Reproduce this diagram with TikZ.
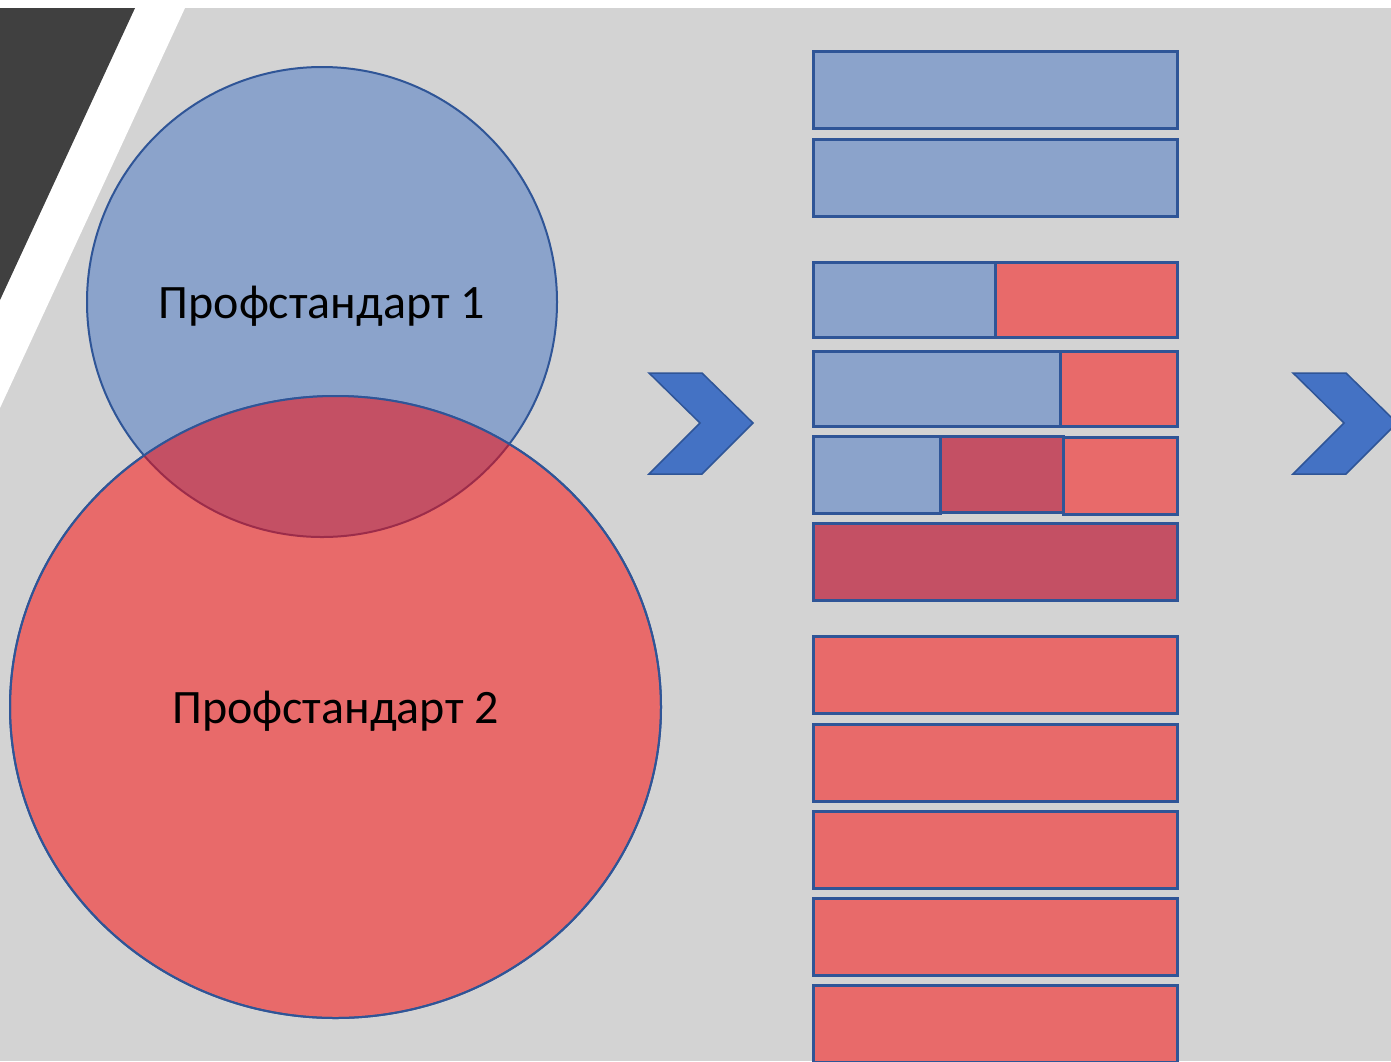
\documentclass[tikz,border=0pt]{standalone}
\usepackage{fontspec}
\setmainfont{Carlito}
\definecolor{bggray}{HTML}{D3D3D3}
\definecolor{darkband}{HTML}{404040}
\definecolor{psblue}{HTML}{8BA3CB}
\definecolor{psred}{HTML}{E86A6A}
\definecolor{psboth}{HTML}{C45064}
\definecolor{edgeblue}{HTML}{2F5597}
\definecolor{edgered}{HTML}{9C2C4A}
\definecolor{arrowblue}{HTML}{4472C4}
\tikzset{
    bar/.style={draw=edgeblue,line width=3pt},
    chev/.style={fill=arrowblue,draw=edgeblue,line width=1.5pt,line join=miter},
    label/.style={font=\fontsize{48}{56}\selectfont,text=black}
}
\begin{document}
\begin{tikzpicture}[x=1pt,y=-1pt]
    \useasboundingbox (0,0) rectangle (1391,1061);
    \clip (0,0) rectangle (1391,1061);
    % background and corner band
    \fill[white] (0,0) rectangle (1391,1061);
    \fill[bggray] (0,8) rectangle (1391,1061);
    \fill[white] (135,8) -- (185,8) -- (0,408) -- (0,300) -- cycle;
    \fill[darkband] (0,8) -- (135,8) -- (0,300) -- cycle;
    % two sets
    \draw[fill=psblue,draw=edgeblue,line width=2pt] (322,302) circle (235);
    \draw[fill=psred,draw=edgeblue,line width=2pt] (335.5,707) ellipse (325.5 and 311);
    \begin{scope}
        \clip (322,302) circle (235);
        \fill[psboth] (335.5,707) ellipse (325.5 and 311);
    \end{scope}
    \begin{scope}
        \clip (335.5,707) ellipse (325.5 and 311);
        \draw[edgered,line width=2pt] (322,302) circle (235);
    \end{scope}
    \draw[edgeblue,line width=2pt] (335.5,707) ellipse (325.5 and 311);
    \node[label] (ps1) at (322,306) {Профстандарт 1};
    \node[label] (ps2) at (335.5,711) {Профстандарт 2};
    % chevrons
    \foreach \cx in {649,1293}
        \draw[chev] (\cx,373) -- (\cx+53,373) -- (\cx+104,423) -- (\cx+53,474)
            -- (\cx,474) -- (\cx+51,423) -- cycle;
    % stack of bars
    \foreach \ty in {51,139}
        \draw[bar,fill=psblue] (813,\ty) rectangle (1177,\ty+77);
    \draw[bar,fill=psblue] (813,262) rectangle (995,337);
    \draw[bar,fill=psred] (995,262) rectangle (1177,337);
    \draw[bar,fill=psblue] (813,351) rectangle (1060,426);
    \draw[bar,fill=psred] (1060,351) rectangle (1177,426);
    \draw[bar,fill=psblue] (813,436) rectangle (940,513);
    \draw[bar,fill=psboth] (940,436) rectangle (1063,512);
    \draw[bar,fill=psred] (1063,437) rectangle (1177,514);
    \draw[bar,fill=psboth] (813,523) rectangle (1177,600);
    \foreach \ty in {636,724,811,898,985}
        \draw[bar,fill=psred] (813,\ty) rectangle (1177,\ty+77);
\end{tikzpicture}
\end{document}
